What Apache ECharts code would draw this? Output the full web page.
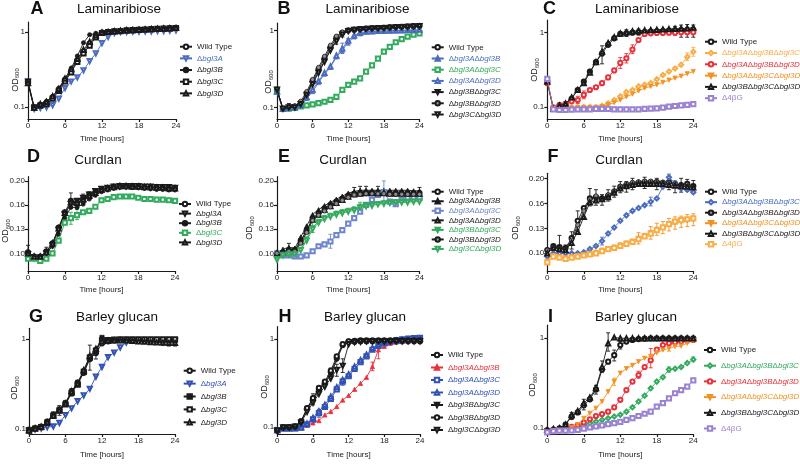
<!DOCTYPE html>
<html><head><meta charset="utf-8">
<script src="https://cdn.jsdelivr.net/npm/echarts@6/dist/echarts.min.js"></script>
<style>html,body{margin:0;padding:0;background:#fff}#c{width:800px;height:464px}</style>
</head><body><div id="c"></div>
<script>
// ---------- shared axis data ----------
const hours = [0,1,2,3,4,5,6,7,8,9,10,11,12,13,14,15,16,17,18,19,20,21,22,23,24];
const decadeTicks = [0.1, 1];
const decadeLabels = ['0.1', '1'];
const curdlanTicks = [0.1, 0.1259, 0.1585, 0.1995];
const curdlanLabels = ['0.10', '0.13', '0.16', '0.20'];

// ---------- A: Laminaribiose, single mutants ----------
const aWT = [0.22,0.10,0.108,0.115,0.135,0.17,0.23,0.30,0.42,0.55,0.70,0.88,0.98,1.0,1.02,1.03,1.04,1.05,1.06,1.07,1.08,1.09,1.10,1.11,1.12];
const aA  = [0.22,0.095,0.098,0.10,0.107,0.13,0.18,0.22,0.25,0.31,0.41,0.52,0.71,0.86,0.97,1.0,1.0,1.01,1.01,1.02,1.02,1.03,1.03,1.04,1.05];
const aB  = [0.21,0.097,0.11,0.12,0.14,0.18,0.24,0.33,0.48,0.72,0.92,0.96,0.98,1.0,1.03,1.05,1.07,1.08,1.09,1.10,1.11,1.12,1.13,1.14,1.15];
const aC  = [0.22,0.10,0.105,0.11,0.13,0.165,0.22,0.29,0.40,0.52,0.66,0.85,0.97,1.0,1.02,1.03,1.05,1.06,1.07,1.08,1.09,1.10,1.11,1.12,1.13];
const aD  = [0.21,0.098,0.11,0.118,0.14,0.175,0.24,0.32,0.44,0.58,0.74,0.90,0.98,1.0,1.02,1.04,1.05,1.06,1.07,1.08,1.09,1.10,1.11,1.12,1.13];

// ---------- B: Laminaribiose, double mutants ----------
const bWT = [0.17,0.095,0.10,0.10,0.11,0.15,0.22,0.31,0.43,0.60,0.80,0.93,1.0,1.02,1.04,1.05,1.06,1.07,1.08,1.09,1.10,1.11,1.12,1.13,1.14];
const bAB = [0.16,0.095,0.097,0.10,0.105,0.13,0.16,0.21,0.27,0.33,0.45,0.55,0.70,0.82,0.90,0.95,0.96,0.97,0.97,0.98,0.98,0.99,0.99,1.0,1.0];
const bAC = [0.16,0.095,0.096,0.098,0.103,0.106,0.109,0.113,0.118,0.125,0.137,0.168,0.195,0.215,0.238,0.29,0.35,0.43,0.53,0.61,0.70,0.77,0.83,0.88,0.91];
const bAD = [0.16,0.095,0.098,0.10,0.107,0.135,0.17,0.22,0.28,0.34,0.47,0.58,0.74,0.86,0.93,0.96,0.97,0.98,0.98,0.99,1.0,1.0,1.01,1.01,1.02];
const bBC = [0.17,0.095,0.10,0.102,0.115,0.15,0.21,0.29,0.40,0.56,0.75,0.90,0.99,1.02,1.04,1.06,1.07,1.08,1.09,1.10,1.11,1.12,1.13,1.14,1.15];
const bBD = [0.17,0.096,0.10,0.105,0.12,0.16,0.23,0.33,0.46,0.64,0.84,0.95,1.0,1.02,1.04,1.05,1.06,1.07,1.08,1.09,1.10,1.11,1.12,1.13,1.14];
const bCD = [0.17,0.096,0.10,0.10,0.11,0.145,0.20,0.28,0.39,0.55,0.72,0.88,0.98,1.01,1.03,1.04,1.05,1.06,1.07,1.08,1.09,1.10,1.11,1.12,1.13];
const bABerr = [[11,0.50,0.68],[12,0.64,0.78]];
const bBCerr = [[2,0.095,0.112],[10,0.66,0.84],[11,0.82,0.98]];

// ---------- C: Laminaribiose, triple mutants ----------
const cWT  = [0.22,0.095,0.105,0.11,0.13,0.17,0.22,0.30,0.40,0.52,0.68,0.83,0.95,0.97,0.99,1.0,1.01,1.02,1.03,1.04,1.05,1.06,1.07,1.07,1.08];
const cABC = [0.22,0.098,0.098,0.098,0.099,0.10,0.10,0.10,0.10,0.105,0.113,0.125,0.14,0.16,0.17,0.19,0.20,0.21,0.236,0.27,0.30,0.33,0.37,0.47,0.55];
const cABD = [0.21,0.10,0.105,0.11,0.12,0.125,0.146,0.17,0.185,0.21,0.25,0.31,0.39,0.45,0.59,0.79,0.95,0.97,0.98,0.98,0.99,0.99,1.0,1.0,1.0];
const cACD = [0.22,0.098,0.097,0.097,0.098,0.099,0.10,0.10,0.10,0.102,0.108,0.115,0.125,0.138,0.15,0.165,0.18,0.19,0.20,0.215,0.23,0.245,0.26,0.28,0.30];
const cBCD = [0.22,0.095,0.105,0.112,0.135,0.17,0.21,0.29,0.40,0.55,0.72,0.86,0.96,1.0,1.03,1.05,1.06,1.07,1.08,1.09,1.10,1.11,1.12,1.13,1.15];
const c4bG = [0.24,0.094,0.092,0.092,0.093,0.094,0.094,0.094,0.095,0.095,0.095,0.094,0.094,0.094,0.094,0.094,0.095,0.096,0.097,0.099,0.102,0.104,0.106,0.108,0.11];
const cWTerr  = [[2,0.10,0.115],[9,0.38,0.66],[13,0.88,1.08],[15,0.92,1.1],[21,0.92,1.2],[22,0.86,1.25],[23,0.86,1.27],[24,0.86,1.25]];
const cABDerr = [[5,0.112,0.14],[6,0.13,0.165],[12,0.33,0.46],[13,0.39,0.52],[14,0.52,0.68]];
const cABCerr = [[23,0.42,0.53],[24,0.48,0.63]];

// ---------- D: Curdlan, single mutants ----------
const dWT = [0.101,0.097,0.097,0.102,0.11,0.128,0.148,0.165,0.162,0.168,0.174,0.179,0.184,0.186,0.188,0.19,0.19,0.189,0.189,0.188,0.188,0.187,0.187,0.186,0.186];
const dA  = [0.099,0.096,0.096,0.10,0.108,0.125,0.145,0.16,0.165,0.17,0.175,0.181,0.185,0.187,0.189,0.19,0.19,0.19,0.19,0.189,0.189,0.188,0.188,0.188,0.187];
const dB  = [0.098,0.096,0.096,0.10,0.107,0.12,0.14,0.155,0.155,0.16,0.168,0.174,0.18,0.183,0.186,0.188,0.188,0.188,0.187,0.186,0.185,0.184,0.184,0.183,0.183];
const dC  = [0.095,0.095,0.093,0.095,0.10,0.113,0.134,0.14,0.144,0.148,0.15,0.156,0.166,0.168,0.171,0.172,0.172,0.172,0.17,0.168,0.168,0.167,0.167,0.166,0.165];
const dD  = [0.10,0.097,0.097,0.101,0.11,0.127,0.147,0.163,0.162,0.167,0.173,0.178,0.183,0.186,0.188,0.19,0.19,0.189,0.189,0.188,0.188,0.187,0.187,0.186,0.186];
const dWTerr = [[0,0.095,0.108],[3,0.097,0.106],[7,0.156,0.178],[9,0.162,0.176],[10,0.168,0.18],[15,0.185,0.194],[22,0.182,0.192],[23,0.181,0.191]];
const dCerr  = [[7,0.132,0.148],[8,0.138,0.152]];

// ---------- E: Curdlan, double mutants ----------
const eWT = [0.10,0.101,0.103,0.103,0.113,0.125,0.14,0.147,0.154,0.159,0.164,0.169,0.174,0.177,0.178,0.179,0.179,0.179,0.179,0.178,0.178,0.178,0.178,0.178,0.178];
const eAB = [0.10,0.104,0.106,0.105,0.117,0.13,0.145,0.152,0.158,0.163,0.168,0.173,0.178,0.181,0.183,0.183,0.183,0.183,0.183,0.183,0.183,0.183,0.183,0.182,0.182];
const eAC = [0.10,0.098,0.098,0.097,0.097,0.098,0.102,0.107,0.109,0.112,0.119,0.125,0.133,0.14,0.149,0.159,0.167,0.175,0.18,0.164,0.16,0.167,0.17,0.17,0.17];
const eAD = [0.10,0.101,0.103,0.103,0.112,0.124,0.138,0.145,0.152,0.157,0.162,0.167,0.172,0.176,0.177,0.178,0.178,0.178,0.178,0.177,0.177,0.177,0.177,0.177,0.177];
const eBC = [0.095,0.099,0.10,0.10,0.104,0.115,0.128,0.136,0.141,0.144,0.147,0.149,0.151,0.153,0.157,0.159,0.16,0.161,0.162,0.163,0.164,0.165,0.165,0.165,0.165];
const eBD = [0.10,0.10,0.102,0.102,0.11,0.122,0.137,0.144,0.15,0.156,0.161,0.166,0.171,0.175,0.176,0.177,0.177,0.177,0.177,0.176,0.176,0.176,0.176,0.176,0.176];
const eCD = [0.094,0.098,0.099,0.099,0.103,0.113,0.126,0.134,0.139,0.142,0.145,0.147,0.149,0.151,0.155,0.157,0.158,0.16,0.161,0.162,0.163,0.163,0.163,0.164,0.164];
const eABerr = [[2,0.10,0.11],[13,0.176,0.188],[14,0.177,0.19],[15,0.177,0.19],[17,0.177,0.19],[24,0.176,0.188]];
const eACerr = [[9,0.105,0.12],[18,0.165,0.2],[24,0.165,0.176]];
const eBCerr = [[6,0.122,0.136],[14,0.15,0.163]];

// ---------- F: Curdlan, triple mutants ----------
const fWT  = [0.103,0.107,0.106,0.105,0.115,0.135,0.152,0.166,0.168,0.166,0.17,0.177,0.185,0.188,0.19,0.192,0.193,0.193,0.193,0.192,0.193,0.19,0.188,0.19,0.186];
const fABC = [0.097,0.10,0.10,0.10,0.10,0.10,0.101,0.104,0.107,0.112,0.12,0.127,0.135,0.142,0.148,0.152,0.156,0.161,0.166,0.185,0.202,0.191,0.182,0.18,0.176];
const fABD = [0.103,0.106,0.105,0.104,0.113,0.13,0.148,0.165,0.17,0.165,0.172,0.178,0.186,0.19,0.193,0.194,0.195,0.195,0.194,0.193,0.192,0.19,0.186,0.186,0.184];
const fACD = [0.093,0.098,0.097,0.096,0.097,0.098,0.099,0.10,0.101,0.103,0.104,0.106,0.108,0.11,0.112,0.115,0.118,0.121,0.125,0.127,0.13,0.132,0.134,0.135,0.136];
const fBCD = [0.10,0.105,0.104,0.103,0.11,0.122,0.14,0.16,0.163,0.165,0.168,0.175,0.182,0.186,0.188,0.19,0.19,0.19,0.19,0.19,0.188,0.187,0.186,0.185,0.184];
const f4bG = [0.092,0.097,0.096,0.095,0.096,0.097,0.098,0.099,0.10,0.102,0.104,0.105,0.107,0.109,0.111,0.114,0.117,0.12,0.124,0.127,0.131,0.134,0.136,0.137,0.138];
const fWTerr  = [[2,0.098,0.118],[4,0.104,0.122],[5,0.124,0.148],[7,0.155,0.182],[8,0.156,0.18],[10,0.162,0.18],[11,0.168,0.186],[12,0.175,0.194],[14,0.18,0.2],[16,0.182,0.202],[18,0.18,0.2],[20,0.18,0.2],[22,0.176,0.2],[23,0.178,0.198],[24,0.174,0.196]];
const fBCDerr = [[3,0.096,0.108],[9,0.156,0.172],[13,0.176,0.194],[21,0.175,0.195]];
const fABCerr = [[9,0.108,0.116],[17,0.155,0.168],[20,0.195,0.208]];
const fACDerr = [[15,0.109,0.121],[17,0.114,0.128],[18,0.118,0.132],[19,0.12,0.134],[20,0.123,0.138],[21,0.125,0.14],[22,0.127,0.141],[23,0.128,0.143],[24,0.129,0.144]];

// ---------- G: Barley glucan, single mutants ----------
const gWT = [0.096,0.10,0.104,0.118,0.14,0.16,0.19,0.25,0.32,0.42,0.60,0.70,0.90,0.95,0.97,0.98,0.98,0.98,0.98,0.98,0.98,0.98,0.98,0.98,0.98];
const gA  = [0.095,0.097,0.10,0.103,0.105,0.115,0.141,0.168,0.202,0.234,0.278,0.38,0.49,0.63,0.71,0.81,0.92,0.98,0.97,0.97,0.96,0.96,0.96,0.96,0.96];
const gB  = [0.097,0.10,0.105,0.12,0.145,0.165,0.195,0.26,0.33,0.44,0.64,0.76,1.05,0.95,0.97,0.97,0.97,0.97,0.97,0.97,0.97,0.97,0.97,0.97,0.97];
const gC  = [0.094,0.099,0.103,0.115,0.138,0.158,0.185,0.25,0.31,0.43,0.62,0.74,0.97,0.98,0.99,1.0,1.0,1.0,1.0,1.0,1.0,1.0,1.0,1.0,1.0];
const gD  = [0.095,0.10,0.104,0.117,0.14,0.16,0.19,0.26,0.32,0.45,0.65,0.78,0.95,0.96,0.97,0.97,0.97,0.96,0.95,0.94,0.93,0.92,0.92,0.91,0.91];
const gWTerr = [[5,0.14,0.18],[7,0.23,0.28],[10,0.45,0.86],[11,0.6,0.8]];
const gDerr  = [[22,0.85,1.0],[23,0.84,1.0],[24,0.84,0.99]];

// ---------- H: Barley glucan, double mutants ----------
const hWT = [0.092,0.10,0.10,0.102,0.116,0.163,0.21,0.27,0.32,0.42,0.61,0.86,0.94,0.94,0.95,0.95,0.95,0.95,0.95,0.95,0.95,0.95,0.95,0.95,0.95];
const hAB = [0.093,0.097,0.097,0.097,0.098,0.105,0.112,0.119,0.138,0.151,0.172,0.204,0.23,0.27,0.316,0.37,0.49,0.76,0.83,0.90,0.93,0.95,0.96,0.97,0.98];
const hAC = [0.093,0.097,0.097,0.097,0.10,0.108,0.123,0.145,0.17,0.21,0.27,0.33,0.38,0.46,0.55,0.64,0.76,0.84,0.90,0.95,0.98,1.0,1.02,1.03,1.04];
const hAD = [0.093,0.097,0.097,0.098,0.10,0.11,0.128,0.152,0.18,0.223,0.285,0.345,0.40,0.49,0.58,0.67,0.80,0.87,0.91,0.94,0.96,0.98,0.99,1.0,1.01];
const hBC = [0.092,0.10,0.10,0.103,0.118,0.16,0.20,0.26,0.31,0.40,0.58,0.85,0.94,0.95,0.95,0.96,0.96,0.96,0.96,0.96,0.96,0.96,0.96,0.96,0.96];
const hBD = [0.092,0.10,0.10,0.102,0.116,0.165,0.215,0.28,0.33,0.44,0.64,0.88,0.95,0.96,0.97,0.97,0.97,0.97,0.97,0.97,0.97,0.97,0.97,0.97,0.97];
const hCD = [0.092,0.10,0.10,0.102,0.113,0.15,0.19,0.24,0.29,0.36,0.45,0.50,0.88,0.93,0.94,0.95,0.95,0.95,0.95,0.95,0.95,0.95,0.95,0.95,0.95];
const hWTerr = [[6,0.18,0.24],[9,0.37,0.47]];
const hCDerr = [[10,0.38,0.52],[11,0.42,0.6]];
const hABerr = [[16,0.44,0.55],[17,0.6,0.92]];
const hACerr = [[7,0.13,0.16],[11,0.3,0.36]];

// ---------- I: Barley glucan, triple mutants ----------
const iWT  = [0.095,0.097,0.10,0.11,0.135,0.15,0.18,0.21,0.27,0.45,0.55,0.65,0.84,0.92,0.96,0.98,0.99,1.0,1.0,1.0,1.0,1.0,1.0,1.0,1.0];
const iABC = [0.092,0.094,0.095,0.096,0.098,0.104,0.108,0.114,0.119,0.124,0.129,0.135,0.141,0.153,0.171,0.198,0.23,0.278,0.33,0.37,0.45,0.46,0.48,0.53,0.58];
const iABD = [0.092,0.095,0.096,0.098,0.104,0.108,0.116,0.126,0.137,0.144,0.153,0.171,0.207,0.266,0.33,0.39,0.48,0.57,0.75,0.84,0.88,0.90,0.92,0.94,0.96];
const iACD = [0.093,0.095,0.096,0.098,0.102,0.11,0.129,0.147,0.167,0.198,0.255,0.33,0.41,0.46,0.50,0.55,0.60,0.63,0.69,0.74,0.77,0.81,0.82,0.88,0.94];
const iBCD = [0.096,0.098,0.10,0.11,0.14,0.155,0.19,0.22,0.28,0.48,0.88,1.02,1.0,1.0,1.0,1.0,1.0,1.0,1.0,1.0,1.0,1.0,1.0,1.0,1.0];
const i4bG = [0.09,0.093,0.094,0.094,0.095,0.096,0.099,0.102,0.105,0.108,0.111,0.114,0.118,0.124,0.13,0.137,0.145,0.153,0.174,0.19,0.215,0.245,0.266,0.29,0.34];
const iWTerr  = [[4,0.125,0.15],[6,0.16,0.21],[8,0.24,0.3],[11,0.56,0.74],[12,0.76,0.92]];
const iBCDerr = [[9,0.42,0.56],[10,0.72,1.15]];
const iABDerr = [[15,0.36,0.43],[17,0.47,0.77]];
const iACDerr = [[11,0.3,0.36],[20,0.72,0.82]];
const iABCerr = [[20,0.42,0.48],[24,0.55,0.62]];

// ---------- styling ----------
const K = '#1a1a1a', BLUE = '#4a6cc0', BLUE2 = '#3152b4', BLUE3 = '#6d85cc', GREEN = '#33ab5c',
      ORANGE_L = '#f7ae48', ORANGE = '#f39222', RED = '#e8313a', PURPLE = '#9a82d2';
const FONT = 'Liberation Sans, Arial, Helvetica, sans-serif';

const panels = [
  {id:'A', title:'Laminaribiose', letterPos:[37,9.5], titlePos:[119,9.5], odPos:[15.5,80],
   grid:{left:28, top:22, width:148, height:97}, y:{min:0.0699, max:1.358, ticks:decadeTicks, labels:decadeLabels},
   legend:{left:179, top:42.7, gap:3.67}, xGap:15.5,
   series:[['Wild Type',aWT,K,'oc'],['Δbgl3A',aA,BLUE,'od'],['Δbgl3B',aB,K,'fc'],['Δbgl3C',aC,K,'os'],['Δbgl3D',aD,K,'ot']]},
  {id:'B', title:'Laminaribiose', letterPos:[284,9.5], titlePos:[367.5,9.5], odPos:[269,82],
   grid:{left:277, top:23, width:142.5, height:96}, y:{min:0.0705, max:1.244, ticks:decadeTicks, labels:decadeLabels},
   legend:{left:430.7, top:43.3, gap:3.2}, xGap:15.5,
   series:[['Wild Type',bWT,K,'oc'],['Δbgl3AΔbgl3B',bAB,BLUE,'ft',bABerr],['Δbgl3AΔbgl3C',bAC,GREEN,'os'],['Δbgl3AΔbgl3D',bAD,BLUE,'ot'],
           ['Δbgl3BΔbgl3C',bBC,K,'fd',bBCerr],['Δbgl3BΔbgl3D',bBD,K,'gc'],['Δbgl3CΔbgl3D',bCD,K,'od']]},
  {id:'C', title:'Laminaribiose', letterPos:[549.5,9.5], titlePos:[637,9.5], odPos:[535,70],
   grid:{left:547.3, top:20, width:146, height:99}, y:{min:0.0698, max:1.459, ticks:decadeTicks, labels:decadeLabels},
   legend:{left:704, top:37.7, gap:3.3}, xGap:15.5,
   series:[['Wild Type',cWT,K,'oc',cWTerr],['Δbgl3AΔbgl3BΔbgl3C',cABC,ORANGE_L,'odi',cABCerr],['Δbgl3AΔbgl3BΔbgl3D',cABD,RED,'oc',cABDerr],
           ['Δbgl3AΔbgl3CΔbgl3D',cACD,ORANGE,'fd'],['Δbgl3BΔbgl3CΔbgl3D',cBCD,K,'ot'],['Δ4βG',c4bG,PURPLE,'os']]},
  {id:'D', title:'Curdlan', letterPos:[33.5,157], titlePos:[98,160], odPos:[6,231],
   grid:{left:28, top:176.7, width:147, height:94.3}, y:{min:0.0845, max:0.2078, ticks:curdlanTicks, labels:curdlanLabels},
   legend:{left:178, top:200, gap:1.6}, xGap:15,
   series:[['Wild Type',dWT,K,'oc',dWTerr],['Δbgl3A',dA,K,'od'],['Δbgl3B',dB,K,'fc'],['Δbgl3C',dC,GREEN,'os',dCerr],['Δbgl3D',dD,K,'ot']]},
  {id:'E', title:'Curdlan', letterPos:[284,157], titlePos:[343,160], odPos:[250,228],
   grid:{left:277, top:176.7, width:142.5, height:94.3}, y:{min:0.0844, max:0.2084, ticks:curdlanTicks, labels:curdlanLabels},
   legend:{left:430.7, top:187.7, gap:1.55}, xGap:15,
   series:[['Wild Type',eWT,K,'oc'],['Δbgl3AΔbgl3B',eAB,K,'ft',eABerr],['Δbgl3AΔbgl3C',eAC,BLUE3,'os',eACerr],['Δbgl3AΔbgl3D',eAD,K,'ot'],
           ['Δbgl3BΔbgl3C',eBC,GREEN,'fd',eBCerr],['Δbgl3BΔbgl3D',eBD,K,'gc'],['Δbgl3CΔbgl3D',eCD,GREEN,'od']]},
  {id:'F', title:'Curdlan', letterPos:[553,157], titlePos:[619,160], odPos:[516,228],
   grid:{left:547.3, top:173.3, width:146, height:97.7}, y:{min:0.0849, max:0.2095, ticks:curdlanTicks, labels:curdlanLabels},
   legend:{left:704, top:187.7, gap:2.5}, xGap:15,
   series:[['Wild Type',fWT,K,'oc',fWTerr],['Δbgl3AΔbgl3BΔbgl3C',fABC,BLUE,'odi',fABCerr],['Δbgl3AΔbgl3BΔbgl3D',fABD,K,'gc'],
           ['Δbgl3AΔbgl3CΔbgl3D',fACD,ORANGE,'fd',fACDerr],['Δbgl3BΔbgl3CΔbgl3D',fBCD,K,'ot',fBCDerr],['Δ4βG',f4bG,ORANGE_L,'os']]},
  {id:'G', title:'Barley glucan', letterPos:[36,317.5], titlePos:[117,317.5], odPos:[15,388],
   grid:{left:29, top:328.3, width:146, height:105.7}, y:{min:0.0863, max:1.329, ticks:decadeTicks, labels:decadeLabels},
   legend:{left:182.7, top:366.7, gap:4.9}, xGap:17,
   series:[['Wild Type',gWT,K,'oc',gWTerr],['Δbgl3A',gA,BLUE2,'od'],['Δbgl3B',gB,K,'fs'],['Δbgl3C',gC,K,'os'],['Δbgl3D',gD,K,'ot',gDerr]]},
  {id:'H', title:'Barley glucan', letterPos:[285,317.5], titlePos:[365,317.5], odPos:[265,387],
   grid:{left:277.3, top:326.7, width:142.7, height:107.3}, y:{min:0.0839, max:1.39, ticks:decadeTicks, labels:decadeLabels},
   legend:{left:430, top:351, gap:4.5}, xGap:17,
   series:[['Wild Type',hWT,K,'oc',hWTerr],['Δbgl3AΔbgl3B',hAB,RED,'ft',hABerr],['Δbgl3AΔbgl3C',hAC,BLUE2,'os',hACerr],['Δbgl3AΔbgl3D',hAD,BLUE2,'ot'],
           ['Δbgl3BΔbgl3C',hBC,K,'fd'],['Δbgl3BΔbgl3D',hBD,K,'oc'],['Δbgl3CΔbgl3D',hCD,K,'od',hCDerr]]},
  {id:'I', title:'Barley glucan', letterPos:[550.5,317.5], titlePos:[636,317.5], odPos:[533,385],
   grid:{left:547.3, top:325, width:146, height:109}, y:{min:0.0864, max:1.405, ticks:decadeTicks, labels:decadeLabels},
   legend:{left:703, top:346, gap:7.7}, xGap:17,
   series:[['Wild Type',iWT,K,'oc',iWTerr],['Δbgl3AΔbgl3BΔbgl3C',iABC,GREEN,'odi',iABCerr],['Δbgl3AΔbgl3BΔbgl3D',iABD,RED,'oc',iABDerr],
           ['Δbgl3AΔbgl3CΔbgl3D',iACD,ORANGE,'fd',iACDerr],['Δbgl3BΔbgl3CΔbgl3D',iBCD,K,'ot',iBCDerr],['Δ4βG',i4bG,PURPLE,'os']]}
];

const SYM = {
  oc:['emptyCircle',0], fc:['circle',0], gc:['circle',0,'#8c8c8c'],
  ot:['emptyTriangle',0], ft:['triangle',0], od:['emptyTriangle',180], fd:['triangle',180],
  os:['emptyRect',0], fs:['rect',0], odi:['emptyDiamond',0]
};

function richName(label){
  if (label.indexOf('bgl') < 0) return label;
  return label.split('Δ').filter(Boolean).map(p => '{n|Δ}{i|' + p + '}').join('');
}
function nearestLabel(v, ticks, labels){
  let best = 0;
  ticks.forEach((t,k) => { if (Math.abs(Math.log10(t) - Math.log10(v)) < Math.abs(Math.log10(ticks[best]) - Math.log10(v))) best = k; });
  return labels[best];
}
function errorBarSeries(gi, err, color){
  return {
    type:'custom', xAxisIndex:gi, yAxisIndex:gi, data:err, silent:true, z:1,
    encode:{x:0, y:[1,2]},
    renderItem:(params, api) => {
      const x = api.value(0), lo = api.value(1), hi = api.value(2);
      const p1 = api.coord([x, lo]), p2 = api.coord([x, hi]);
      const w = 2, st = {stroke:color, lineWidth:0.9};
      return {type:'group', children:[
        {type:'line', shape:{x1:p1[0], y1:p1[1], x2:p2[0], y2:p2[1]}, style:st},
        {type:'line', shape:{x1:p1[0]-w, y1:p1[1], x2:p1[0]+w, y2:p1[1]}, style:st},
        {type:'line', shape:{x1:p2[0]-w, y1:p2[1], x2:p2[0]+w, y2:p2[1]}, style:st}
      ]};
    }
  };
}

const grids = [], xAxes = [], yAxes = [], series = [], legends = [], graphics = [];
panels.forEach((p, gi) => {
  grids.push(Object.assign({containLabel:false, outerBoundsMode:'none'}, p.grid));
  xAxes.push({
    type:'value', gridIndex:gi, min:0, max:24, interval:6,
    axisLine:{show:true, onZero:false, lineStyle:{color:K, width:1.2}},
    axisTick:{show:true, length:3, lineStyle:{color:K, width:1.2}},
    axisLabel:{fontSize:8, color:'#222', margin:3, fontFamily:FONT},
    splitLine:{show:false},
    name:'Time [hours]', nameLocation:'middle', nameGap:p.xGap,
    nameTextStyle:{fontSize:8, color:'#222', fontFamily:FONT}
  });
  const yt = p.y.ticks, yl = p.y.labels;
  yAxes.push({
    type:'log', logBase:10, gridIndex:gi, min:p.y.min, max:p.y.max,
    axisLine:{show:true, lineStyle:{color:K, width:1.2}},
    axisTick:{show:true, length:3, customValues:yt, lineStyle:{color:K, width:1.2}},
    axisLabel:{fontSize:8, color:'#222', margin:3, fontFamily:FONT, customValues:yt,
               formatter: v => nearestLabel(v, yt, yl)},
    splitLine:{show:false}, minorTick:{show:false}
  });
  const legendData = [];
  p.series.forEach((s, si) => {
    const [label, vals, color, kind, err] = s;
    const sym = SYM[kind];
    const name = p.id + '|' + label;
    series.push({
      type:'line', name, xAxisIndex:gi, yAxisIndex:gi,
      data: hours.map((h,k) => [h, vals[k]]),
      symbol: sym[0], symbolRotate: sym[1], symbolSize: 4.2,
      itemStyle:{color: sym[2] || color, borderColor: color, borderWidth: 0.8},
      lineStyle:{color, width:0.9},
      emphasis:{disabled:true}, z: 2 + si
    });
    if (err) series.push(errorBarSeries(gi, err, color));
    legendData.push({name, textStyle:{color: color === K ? '#222' : color}});
  });
  legends.push({
    orient:'vertical', left:p.legend.left, top:p.legend.top, itemGap:p.legend.gap, padding:0,
    itemWidth:12, itemHeight:5.5, selectedMode:false, data:legendData,
    formatter: n => richName(n.split('|')[1]),
    textStyle:{fontSize:8, lineHeight:8, fontFamily:FONT,
      rich:{ n:{fontSize:8, lineHeight:8, fontFamily:FONT, fontStyle:'normal'},
             i:{fontSize:8, lineHeight:8, fontFamily:FONT, fontStyle:'italic'} }}
  });
  graphics.push({type:'text', x:p.letterPos[0], y:p.letterPos[1],
    style:{text:p.id, fontSize:18, fontWeight:'bold', fontFamily:FONT, fill:'#111', align:'center', verticalAlign:'middle'}});
  graphics.push({type:'text', x:p.titlePos[0], y:p.titlePos[1],
    style:{text:p.title, fontSize:13.5, fontFamily:FONT, fill:'#111', align:'center', verticalAlign:'middle'}});
  graphics.push({type:'text', x:p.odPos[0], y:p.odPos[1], rotation:Math.PI/2,
    style:{text:'{a|OD}{s|600}', fontFamily:FONT, fill:'#222', align:'center', verticalAlign:'middle',
      rich:{a:{fontSize:9, lineHeight:10, fontFamily:FONT}, s:{fontSize:6, lineHeight:6, verticalAlign:'bottom', fontFamily:FONT}}}});
});

const chart = echarts.init(document.getElementById('c'), null, {renderer:'canvas'});
chart.setOption({
  animation:false, backgroundColor:'#fff',
  textStyle:{fontFamily:FONT},
  grid:grids, xAxis:xAxes, yAxis:yAxes, legend:legends, series, graphic:graphics
});
</script></body></html>
